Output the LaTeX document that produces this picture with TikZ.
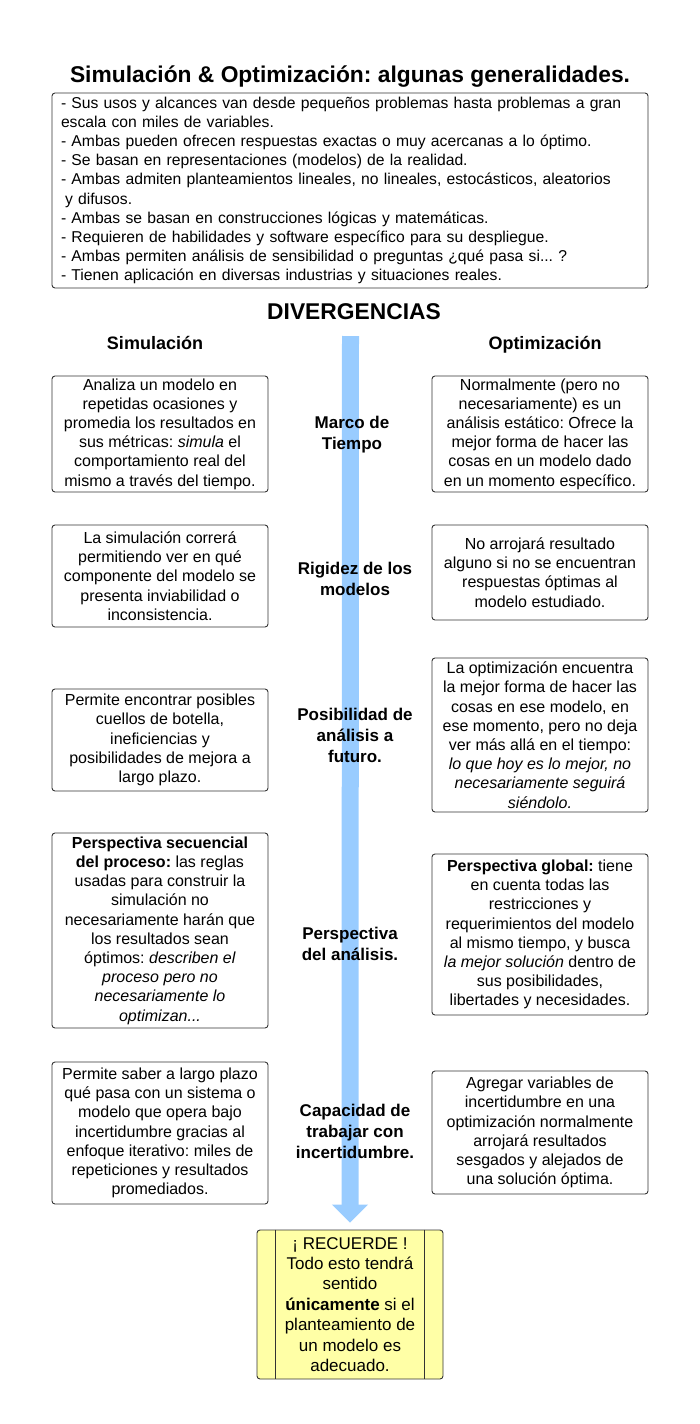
\documentclass[tikz,border=0pt]{standalone}
\usepackage{fontspec}
\setmainfont{Liberation Sans}
\usetikzlibrary{arrows.meta}
\definecolor{arrowblue}{HTML}{99CCFF}
\definecolor{notey}{HTML}{FFFFA6}
\definecolor{edgec}{HTML}{333333}
\frenchspacing
\begin{document}
\begin{tikzpicture}[x=1pt,y=-1pt,
  box/.style={draw=edgec, rounded corners=3pt, line width=0.9pt, fill=white, align=center, inner sep=0pt, font=\fontsize{16}{19.2}\selectfont},
  lbox/.style={box, minimum width=216pt},
  lbl/.style={align=center, inner sep=0pt, font=\fontsize{17}{21}\selectfont\bfseries},
  hdr/.style={inner sep=0pt, anchor=base, font=\fontsize{18}{22}\selectfont\bfseries},
  ttl/.style={inner sep=0pt, anchor=base, font=\fontsize{22.8}{27}\selectfont\bfseries},
  flow/.style={draw=arrowblue, line width=17pt, -{Triangle[width=35pt,length=18pt]}}
]
\useasboundingbox (0,0) rectangle (700,1424);

\node[ttl] (title) at (350,82) {Simulación \& Optimización: algunas generalidades.};
\node[box, align=left, text width=578pt, inner xsep=9pt, minimum height=195pt, font=\fontsize{15.7}{19.2}\selectfont] (gen) at (350,190.5) {%
- Sus usos y alcances van desde pequeños problemas hasta problemas a gran\\
escala con miles de variables.\\
- Ambas pueden ofrecen respuestas exactas o muy acercanas a lo óptimo.\\
- Se basan en representaciones (modelos) de la realidad.\\
- Ambas admiten planteamientos lineales, no lineales, estocásticos, aleatorios\\
\hspace*{4pt}y difusos.\\
- Ambas se basan en construcciones lógicas y matemáticas.\\
- Requieren de habilidades y software específico para su despliegue.\\
- Ambas permiten análisis de sensibilidad o preguntas ¿qué pasa si... ?\\
- Tienen aplicación en diversas industrias y situaciones reales.};

\node[ttl] (div) at (354,319) {DIVERGENCIAS};
\node[hdr] (hsim) at (155,349) {Simulación};
\node[hdr] (hopt) at (545,349) {Optimización};

% central flow arrow
\coordinate (atop) at (350.5,336);
\node[box, fill=notey, minimum width=186pt, minimum height=149pt, font=\fontsize{17}{20.4}\selectfont] (rec) at (350,1304.5) {%
¡ RECUERDE !\\ Todo esto tendrá\\ sentido\\ \textbf{únicamente} si el\\ planteamiento de\\ un modelo es\\ adecuado.};
\draw[edgec, line width=0.9pt] ([xshift=19pt]rec.north west) -- ([xshift=19pt]rec.south west);
\draw[edgec, line width=0.9pt] ([xshift=-19pt]rec.north east) -- ([xshift=-19pt]rec.south east);
\draw[flow] (atop) -- ([yshift=7pt]rec.north);

% row 1
\node[lbox, minimum height=116pt] (s1) at (160,434) {Analiza un modelo en\\ repetidas ocasiones y\\ promedia los resultados en\\ sus métricas: \textit{simula} el\\ comportamiento real del\\ mismo a través del tiempo.};
\node[lbox, minimum height=116pt] (o1) at (540,434) {Normalmente (pero no\\ necesariamente) es un\\ análisis estático: Ofrece la\\ mejor forma de hacer las\\ cosas en un modelo dado\\ en un momento específico.};
\node[lbl] (c1) at (352,435) {Marco de\\ Tiempo};

% row 2
\node[lbox, minimum height=102pt] (s2) at (160,576) {La simulación correrá\\ permitiendo ver en qué\\ componente del modelo se\\ presenta inviabilidad o\\ inconsistencia.};
\node[lbox, minimum height=95pt] (o2) at (540,572.5) {No arrojará resultado\\ alguno si no se encuentran\\ respuestas óptimas al\\ modelo estudiado.};
\node[lbl] (c2) at (355,579) {Rigidez de los\\ modelos};

% row 3
\node[lbox, minimum height=102pt] (s3) at (160,740) {Permite encontrar posibles\\ cuellos de botella,\\ ineficiencias y\\ posibilidades de mejora a\\ largo plazo.};
\node[lbox, minimum height=154pt] (o3) at (540,735) {La optimización encuentra\\ la mejor forma de hacer las\\ cosas en ese modelo, en\\ ese momento, pero no deja\\ ver más allá en el tiempo:\\ \textit{lo que hoy es lo mejor, no}\\ \textit{necesariamente seguirá}\\ \textit{siéndolo.}};
\node[lbl] (c3) at (355,735) {Posibilidad de\\ análisis a\\ futuro.};

% row 4
\node[lbox, minimum height=195pt] (s4) at (160,930.5) {\textbf{Perspectiva secuencial}\\ \textbf{del proceso:} las reglas\\ usadas para construir la\\ simulación no\\ necesariamente harán que\\ los resultados sean\\ óptimos: \textit{describen el}\\ \textit{proceso pero no}\\ \textit{necesariamente lo}\\ \textit{optimizan...}};
\node[lbox, minimum height=161pt] (o4) at (540,934.5) {\textbf{Perspectiva global:} tiene\\ en cuenta todas las\\ restricciones y\\ requerimientos del modelo\\ al mismo tiempo, y busca\\ \textit{la mejor solución} dentro de\\ sus posibilidades,\\ libertades y necesidades.};
\node[lbl] (c4) at (350,944) {Perspectiva\\ del análisis.};

% row 5
\node[lbox, minimum height=142pt] (s5) at (160,1133) {Permite saber a largo plazo\\ qué pasa con un sistema o\\ modelo que opera bajo\\ incertidumbre gracias al\\ enfoque iterativo: miles de\\ repeticiones y resultados\\ promediados.};
\node[lbox, minimum height=123pt] (o5) at (540,1132.5) {Agregar variables de\\ incertidumbre en una\\ optimización normalmente\\ arrojará resultados\\ sesgados y alejados de\\ una solución óptima.};
\node[lbl] (c5) at (355,1131) {Capacidad de\\ trabajar con\\ incertidumbre.};
\end{tikzpicture}
\end{document}
